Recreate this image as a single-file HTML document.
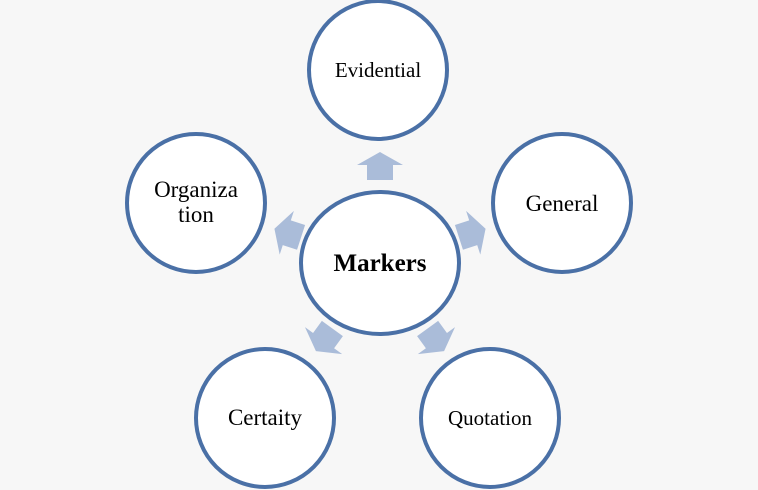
<!DOCTYPE html>
<html><head><style>
html,body{margin:0;padding:0;background:#f7f7f7;}
svg{display:block;}
text{font-family:"Liberation Serif",serif;fill:#000;}
</style></head><body>
<svg width="758" height="490" viewBox="0 0 758 490" xmlns="http://www.w3.org/2000/svg">
<rect width="758" height="490" fill="#f7f7f7"/>
<g fill="#aabcd9">
<g transform="translate(380,263) rotate(0) translate(0,-97)"><polygon points="0,-14 23,-1 13,-1 13,14 -13,14 -13,-1 -23,-1"/></g>
<g transform="translate(380,263) rotate(72) translate(0,-97)"><polygon points="0,-14 23,-1 13,-1 13,14 -13,14 -13,-1 -23,-1"/></g>
<g transform="translate(380,263) rotate(-72) translate(0,-97)"><polygon points="0,-14 23,-1 13,-1 13,14 -13,14 -13,-1 -23,-1"/></g>
<g transform="translate(380,263) rotate(144) translate(0,-95)"><polygon points="0,-14 23,-1 13,-1 13,14 -13,14 -13,-1 -23,-1"/></g>
<g transform="translate(380,263) rotate(-144) translate(0,-95)"><polygon points="0,-14 23,-1 13,-1 13,14 -13,14 -13,-1 -23,-1"/></g>
</g>
<g fill="#fff" stroke="#4a70a6" stroke-width="4">
<ellipse cx="380" cy="263" rx="79" ry="71"/>
<circle cx="378" cy="70" r="69"/>
<circle cx="562" cy="203" r="69"/>
<circle cx="196" cy="203" r="69"/>
<circle cx="265" cy="418" r="69"/>
<circle cx="490" cy="418" r="69"/>
</g>
<text x="380" y="271" font-size="25" font-weight="bold" text-anchor="middle">Markers</text>
<text x="378" y="77" font-size="21" text-anchor="middle">Evidential</text>
<text x="562" y="211" font-size="23" text-anchor="middle">General</text>
<text x="196" y="197" font-size="23" text-anchor="middle">Organiza</text>
<text x="196" y="222" font-size="23" text-anchor="middle">tion</text>
<text x="265" y="425" font-size="23" text-anchor="middle">Certaity</text>
<text x="490" y="425" font-size="21" text-anchor="middle">Quotation</text>
</svg>
</body></html>
